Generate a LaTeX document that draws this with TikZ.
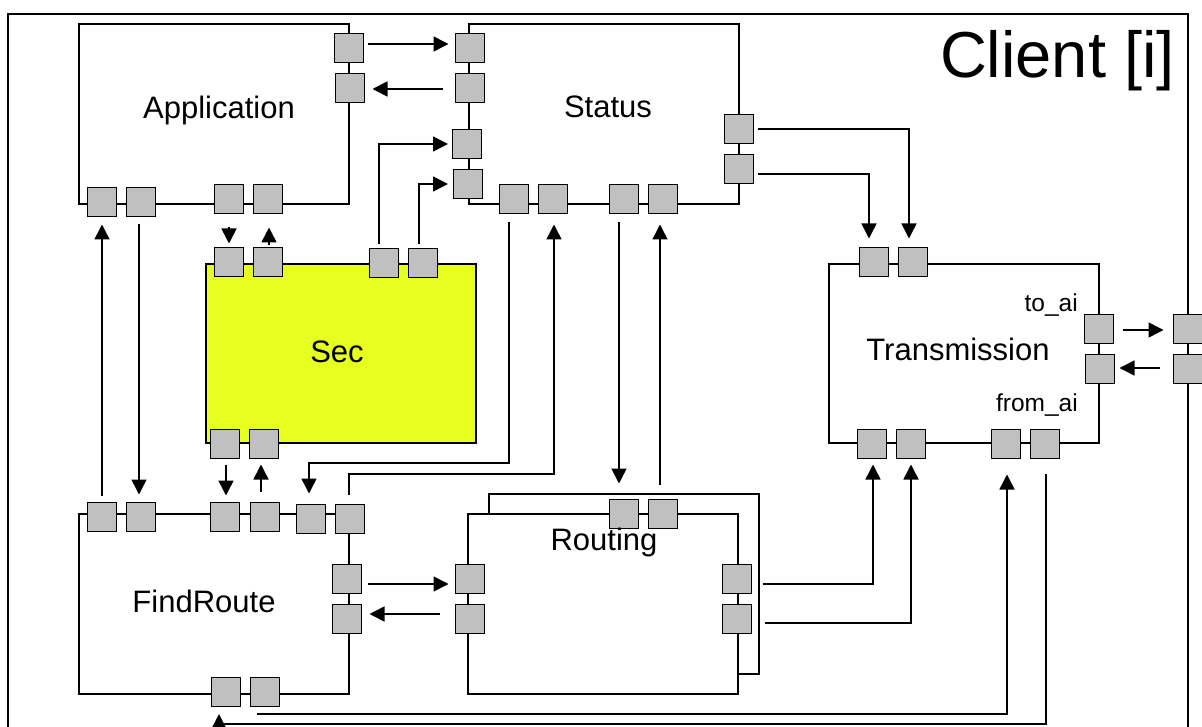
\documentclass[tikz,border=0pt]{standalone}
\usepackage{fontspec}
\setmainfont{Liberation Sans}
\usetikzlibrary{arrows.meta}
\definecolor{secyellow}{RGB}{230,255,30}
\definecolor{portgray}{RGB}{192,192,192}
\begin{document}
\begin{tikzpicture}[x=1pt,y=-1pt,
  blk/.style={draw=black, line width=1.8pt, fill=white, minimum width=270pt, minimum height=180pt, inner sep=0pt, outer sep=0pt},
  port/.style={draw=black, line width=1.6pt, fill=portgray, minimum width=29pt, minimum height=29pt, inner sep=0pt, outer sep=0pt},
  conn/.style={line width=1.5pt, -{Triangle[length=15pt,width=15pt]}},
  lbl/.style={font=\fontsize{31}{36}\selectfont, anchor=base, inner sep=0pt},
  smalllbl/.style={font=\fontsize{24.5}{28}\selectfont, anchor=base east, inner sep=0pt},
]
\useasboundingbox (0,0) rectangle (1202,727);
% outer frame
\draw[line width=1.8pt] (8,760) -- (8,14) -- (1188,14) -- (1188,760);
% blocks
\node[blk] (app) at (214,114) {};
\node[blk] (stat) at (604,114) {};
\node[blk, fill=secyellow, minimum height=179pt] (sec) at (341,353.5) {};
\node[blk, minimum height=179pt] (trans) at (964,353.5) {};
\node[blk] (find) at (214,604) {};
\draw[line width=1.8pt] (489,514) |- (759,494) |- (738,674);
\node[blk] (rout) at (603,604) {};
% ports: Application
\node[port] (aR1) at (349,48) {};
\node[port] (aR2) at (350,88) {};
\node[port] (aB1) at (102,202) {};
\node[port] (aB2) at (141,202) {};
\node[port] (aB3) at (229,199) {};
\node[port] (aB4) at (268,199) {};
% Status
\node[port] (sL1) at (470,48) {};
\node[port] (sL2) at (470,88) {};
\node[port] (sL3) at (467,144) {};
\node[port] (sL4) at (468,184) {};
\node[port] (sR1) at (739,129) {};
\node[port] (sR2) at (739,169) {};
\node[port] (sB1) at (514,199) {};
\node[port] (sB2) at (553,199) {};
\node[port] (sB3) at (624,199) {};
\node[port] (sB4) at (663,199) {};
% Sec
\node[port] (secT1) at (229,262) {};
\node[port] (secT2) at (268,262) {};
\node[port] (secT3) at (384,263) {};
\node[port] (secT4) at (423,263) {};
\node[port] (secB1) at (225,444) {};
\node[port] (secB2) at (264,444) {};
% Transmission
\node[port] (tT1) at (874,262) {};
\node[port] (tT2) at (913,262) {};
\node[port] (tR1) at (1099,329) {};
\node[port] (tR2) at (1100,369) {};
\node[port] (tB1) at (872,444) {};
\node[port] (tB2) at (911,444) {};
\node[port] (tB3) at (1006,444) {};
\node[port] (tB4) at (1045,444) {};
% outer ports
\node[port] (ai1) at (1188,329) {};
\node[port] (ai2) at (1188,369) {};
% FindRoute
\node[port] (fT1) at (102,517) {};
\node[port] (fT2) at (141,517) {};
\node[port] (fT3) at (225,517) {};
\node[port] (fT4) at (265,517) {};
\node[port] (fT5) at (311,519) {};
\node[port] (fT6) at (350,519) {};
\node[port] (fR1) at (347,579) {};
\node[port] (fR2) at (347,619) {};
\node[port] (fB1) at (226,692) {};
\node[port] (fB2) at (265,692) {};
% Routing
\node[port] (rL1) at (470,579) {};
\node[port] (rL2) at (470,619) {};
\node[port] (rT1) at (624,514) {};
\node[port] (rT2) at (663,514) {};
\node[port] (rR1) at (737,579) {};
\node[port] (rR2) at (737,619) {};
% labels
\node[lbl] (appL) at (219,119) {Application};
\node[lbl] (statL) at (608,118) {Status};
\node[lbl] (secL) at (337,362) {Sec};
\node[lbl] (findL) at (204,612) {FindRoute};
\node[lbl] (routL) at (604,550) {Routing};
\node[lbl] (transL) at (958,360) {Transmission};
\node[smalllbl] (toL) at (1078,312) {to\_ai};
\node[smalllbl] (fromL) at (1078,411) {from\_ai};
\node[font=\fontsize{65}{70}\selectfont, anchor=base east, inner sep=0pt] (client) at (1175,78) {Client [i]};
% connectors
\draw[conn, shorten <=4pt, shorten >=7pt] ([yshift=4pt]aR1.east) -- ([yshift=4pt]sL1.west);
\draw[conn, shorten <=13pt, shorten >=8pt] ([yshift=-1pt]sL2.west) -- ([yshift=-1pt]aR2.east);
\draw[conn, shorten >=4.5pt] ([xshift=-5pt,yshift=4pt]secT3.north) |- (sL3.west);
\draw[conn, shorten >=5.5pt] ([xshift=-4pt,yshift=4pt]secT4.north) |- (sL4.west);
\draw[conn, shorten <=14pt, shorten >=4pt] (aB3.south) -- (secT1.north);
\draw[conn, shorten <=2pt, shorten >=14pt] ([xshift=1pt]secT2.north) -- ([xshift=1pt]aB4.south);
\draw[conn, shorten <=7pt, shorten >=8pt] (fT1.north) -- (aB1.south);
\draw[conn, shorten <=8pt, shorten >=8pt] ([xshift=-2pt]aB2.south) -- ([xshift=-2pt]fT2.north);
\draw[conn, shorten <=6pt, shorten >=7pt] ([xshift=1pt]secB1.south) -- ([xshift=1pt]fT3.north);
\draw[conn, shorten <=11pt, shorten >=6pt] ([xshift=-4pt]fT4.north) -- ([xshift=-3pt]secB2.south);
\draw[conn, shorten <=9pt, shorten >=11pt] ([xshift=-5pt]sB1.south) -- ++(0,249.5) -| ([xshift=-2pt]fT5.north);
\draw[conn, shorten <=10pt, shorten >=11pt] ([xshift=-1pt]fT6.north) -- ++(0,-30.5) -| ([xshift=1pt]sB2.south);
\draw[conn, shorten <=9pt, shorten >=16pt] ([xshift=-5pt]sB3.south) -- ([xshift=-5pt]rT1.north);
\draw[conn, shorten <=15pt, shorten >=11pt] ([xshift=-3pt]rT2.north) -- ([xshift=-3pt]sB4.south);
\draw[conn, shorten <=4pt, shorten >=9pt] (sR1.east) -| ([xshift=-4pt]tT2.north);
\draw[conn, shorten <=4pt, shorten >=9pt] ([yshift=-5pt]sR2.east) -| ([xshift=-5pt]tT1.north);
\draw[conn, shorten <=6pt, shorten >=7pt] ([yshift=-5pt]fR1.east) -- ([yshift=-5pt]rL1.west);
\draw[conn, shorten <=16pt, shorten >=8pt] ([yshift=5pt]rL2.west) -- ([yshift=5pt]fR2.east);
\draw[conn, shorten <=11pt, shorten >=6pt] ([yshift=-5pt]rR1.east) -| ([xshift=1pt]tB1.south);
\draw[conn, shorten <=13pt, shorten >=6pt] ([yshift=-4pt]rR2.east) -| (tB2.south);
\draw[conn, shorten >=16pt] ([xshift=-8pt,yshift=-7.5pt]fB2.south) -| ([xshift=1pt]tB3.south);
\draw[conn, shorten <=15pt, shorten >=7.5pt] ([xshift=1pt]tB4.south) -- ++(0,265.5) -| ([xshift=-7pt]fB1.south);
\draw[conn, shorten <=9pt, shorten >=10pt] ([yshift=-1pt]tR1.east) -- ([yshift=-1pt]ai1.west);
\draw[conn, shorten <=14pt, shorten >=5pt] ([yshift=1pt]ai2.west) -- ([yshift=1pt]tR2.east);
\end{tikzpicture}
\end{document}
